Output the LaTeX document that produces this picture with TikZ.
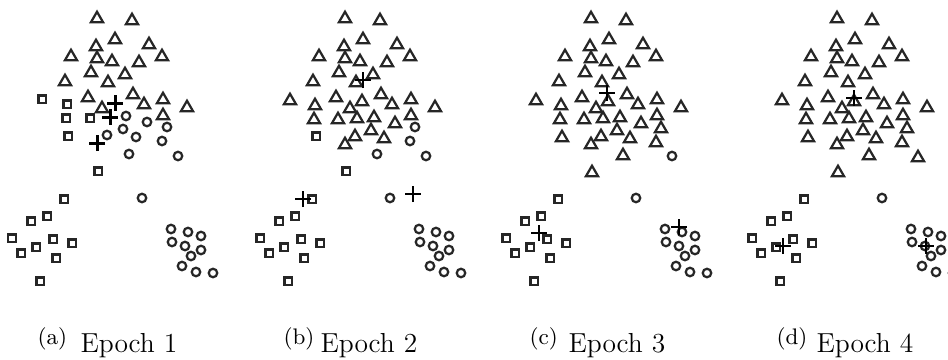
\documentclass[tikz,border=0pt]{standalone}
\usepackage{tikz}
\usetikzlibrary{
    shapes.geometric,
    positioning
}
\tikzset{
    tri/.style={draw=black!85, line width=0.9pt, regular polygon, regular polygon sides=3,
        inner sep=0pt, minimum size=5.6pt, yshift=-0.7pt},
    sqr/.style={draw=black!85, line width=0.9pt, rectangle, inner sep=0pt, minimum size=2.9pt},
    rnd/.style={draw=black!85, line width=0.9pt, circle, inner sep=0pt, minimum size=3.4pt},
    hid/.style={inner sep=0pt},
    centroid/.pic={\draw (-3.2pt,0) -- (3.2pt,0) (0,-3.2pt) -- (0,3.2pt);},
    tag/.style={inner sep=0pt, anchor=base west, font=\fontsize{9}{10}\selectfont},
    epoch/.style={inner sep=0pt, anchor=base west, font=\fontsize{11}{13}\selectfont}
}
\def\pts{%
    97/17/tri/tri/tri/tri, 132/19/tri/tri/tri/tri, 115/38/tri/tri/tri/tri,
    149/43/tri/tri/tri/tri, 96/45/tri/tri/tri/tri, 71/55/tri/tri/tri/tri,
    97/57/tri/tri/tri/tri, 112/60/tri/tri/tri/tri, 139/61/tri/tri/tri/tri,
    162/55/tri/tri/tri/tri, 91/71/tri/tri/tri/tri, 125/73/tri/tri/tri/tri,
    65/80/tri/tri/tri/tri, 108/81/tri/tri/tri/tri, 88/96/tri/tri/tri/tri,
    133/93/tri/tri/tri/tri, 102/107/tri/tri/tri/tri, 144/103/tri/tri/tri/tri,
    163/98/tri/tri/tri/tri, 187/106/tri/tri/tri/tri, 163/114/tri/tri/tri/tri,
    114/100/hid/tri/tri/tri, 109/117/hid/tri/tri/tri, 97/143/hid/tri/tri/tri,
    42/99/sqr/tri/tri/tri, 67/104/sqr/tri/tri/tri, 66/118/sqr/tri/tri/tri,
    90/118/sqr/tri/tri/tri, 68/136/sqr/sqr/tri/tri, 98/171/sqr/sqr/tri/tri,
    126/116/rnd/tri/tri/tri, 147/122/rnd/tri/tri/tri, 123/129/rnd/tri/tri/tri,
    107/135/rnd/tri/tri/tri, 136/137/rnd/tri/tri/tri, 167/127/rnd/rnd/tri/tri,
    162/141/rnd/rnd/tri/tri, 129/154/rnd/rnd/tri/tri, 178/156/rnd/rnd/rnd/tri,
    64/199/sqr/sqr/sqr/sqr, 47/216/sqr/sqr/sqr/sqr, 31/221/sqr/sqr/sqr/sqr,
    12/238/sqr/sqr/sqr/sqr, 53/239/sqr/sqr/sqr/sqr, 72/243/sqr/sqr/sqr/sqr,
    36/247/sqr/sqr/sqr/sqr, 21/253/sqr/sqr/sqr/sqr, 56/258/sqr/sqr/sqr/sqr,
    40/281/sqr/sqr/sqr/sqr,
    142/198/rnd/rnd/rnd/rnd, 171/229/rnd/rnd/rnd/rnd, 188/232/rnd/rnd/rnd/rnd,
    201/236/rnd/rnd/rnd/rnd, 172/242/rnd/rnd/rnd/rnd, 185/246/rnd/rnd/rnd/rnd,
    201/250/rnd/rnd/rnd/rnd, 191/256/rnd/rnd/rnd/rnd, 182/266/rnd/rnd/rnd/rnd,
    196/272/rnd/rnd/rnd/rnd, 213/273/rnd/rnd/rnd/rnd%
}

\begin{document}
\begin{tikzpicture}[x=0.4pt, y=-0.4pt]
    \useasboundingbox (0, 0) rectangle (948, 360);
    \foreach \x/\y/\la/\lb/\lc/\ld in \pts {
        \node[\la] at (\x, \y) {};
        \node[\lb] at (\x + 248, \y) {};
        \node[\lc] at (\x + 494, \y) {};
        \node[\ld] at (\x + 740, \y) {};
    }
    \foreach \cx/\cy in {115/103, 110/117, 97/143}
        \pic[line width=1.2pt] at (\cx, \cy) {centroid};
    \foreach \cx/\cy in {363/80, 303/199, 413/194,
                         607/93, 539/233, 679/227,
                         854/98, 783/246, 926/246}
        \pic[line width=0.8pt] at (\cx, \cy) {centroid};
    \node[tag] (tagA) at (37, 344) {(a)};
    \node[epoch] (epA) at (80, 352) {Epoch 1};
    \node[tag] (tagB) at (283, 344) {(b)};
    \node[epoch] (epB) at (320, 352) {Epoch 2};
    \node[tag] (tagC) at (529, 344) {(c)};
    \node[epoch] (epC) at (568, 352) {Epoch 3};
    \node[tag] (tagD) at (776, 344) {(d)};
    \node[epoch] (epD) at (816, 352) {Epoch 4};
\end{tikzpicture}
\end{document}
